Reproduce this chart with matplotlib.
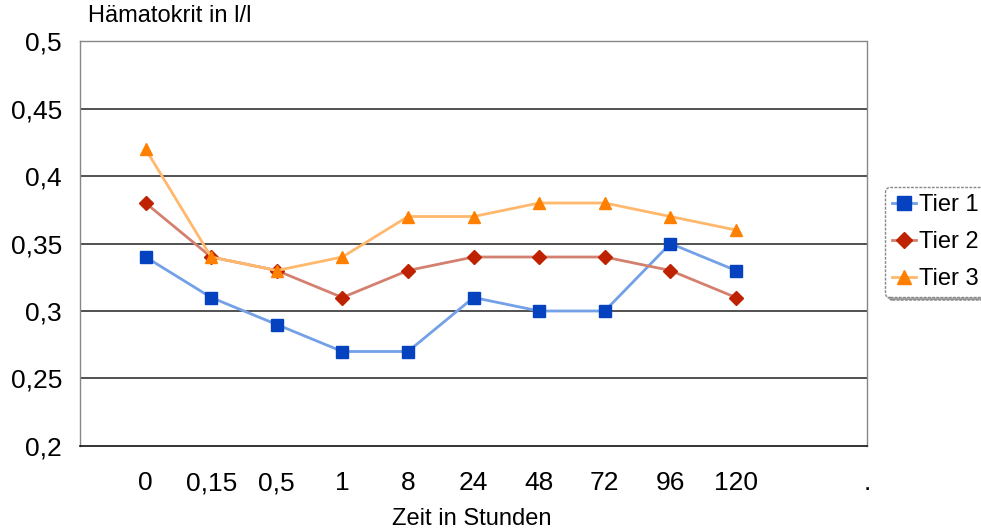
import matplotlib.pyplot as plt
from matplotlib.ticker import FuncFormatter
import numpy as np

plt.rcParams['font.family'] = ['Liberation Sans', 'DejaVu Sans']

# Hämatokrit per Zeitpunkt
zeiten = ["0", "0,15", "0,5", "1", "8", "24", "48", "72", "96", "120"]
tier1 = [0.34, 0.31, 0.29, 0.27, 0.27, 0.31, 0.30, 0.30, 0.35, 0.33]
tier2 = [0.38, 0.34, 0.33, 0.31, 0.33, 0.34, 0.34, 0.34, 0.33, 0.31]
tier3 = [0.42, 0.34, 0.33, 0.34, 0.37, 0.37, 0.38, 0.38, 0.37, 0.36]

fig = plt.figure(figsize=(9.81, 5.30), dpi=100)
ax = fig.add_axes([0.0815, 0.1585, 0.8025, 0.7641])

x = np.arange(len(zeiten))
ax.plot(x, tier1, color="#73a0e6", lw=2, marker="s", ms=9,
        mfc="#0442bf", mec="#0442bf", label="Tier 1", zorder=3)
ax.plot(x, tier2, color="#d4806f", lw=2, marker="D", ms=7,
        mfc="#bf2200", mec="#bf2200", label="Tier 2", zorder=3)
ax.plot(x, tier3, color="#ffb86c", lw=2, marker="^", ms=9,
        mfc="#ff8000", mec="#ff8000", label="Tier 3", zorder=3)

ax.set_xlim(-1, 11)
ax.set_ylim(0.2, 0.5)
ax.set_yticks(np.arange(0.2, 0.501, 0.05))
ax.yaxis.set_major_formatter(FuncFormatter(lambda v, p: f"{v:g}".replace(".", ",")))
ax.set_xticks(list(x) + [11])
ax.set_xticklabels(zeiten + ["."], va="center_baseline")
ax.tick_params(length=0, labelsize=19)
ax.tick_params(axis="x", pad=25)
ax.tick_params(axis="y", pad=13)

for yv in [0.25, 0.3, 0.35, 0.4, 0.45]:
    ax.axhline(yv, color="#222222", lw=1.1, zorder=1)

for side in ["top", "left", "right"]:
    ax.spines[side].set_linestyle((0, (2, 1)))
    ax.spines[side].set_color("#888888")
    ax.spines[side].set_linewidth(1)
ax.spines["bottom"].set_color("#111111")
ax.spines["bottom"].set_linewidth(1.2)

fig.text(88 / 981, 1 - 5 / 530, "Hämatokrit in l/l", fontsize=17, va="top", ha="left")
fig.text(472 / 981, 1 - 519 / 530, "Zeit in Stunden", fontsize=17, va="center", ha="center")

leg = fig.legend(loc="upper left", bbox_to_anchor=(885 / 981, 1 - 187 / 530),
                 fontsize=17, frameon=True, fancybox=True, shadow=True,
                 handlelength=1.0, handletextpad=0.15, borderpad=0.3,
                 labelspacing=0.64, borderaxespad=0, markerscale=1.15)
frame = leg.get_frame()
frame.set_edgecolor("#888888")
frame.set_linestyle((0, (2, 1)))
frame.set_linewidth(1)

fig.savefig("out.png", dpi=100)
